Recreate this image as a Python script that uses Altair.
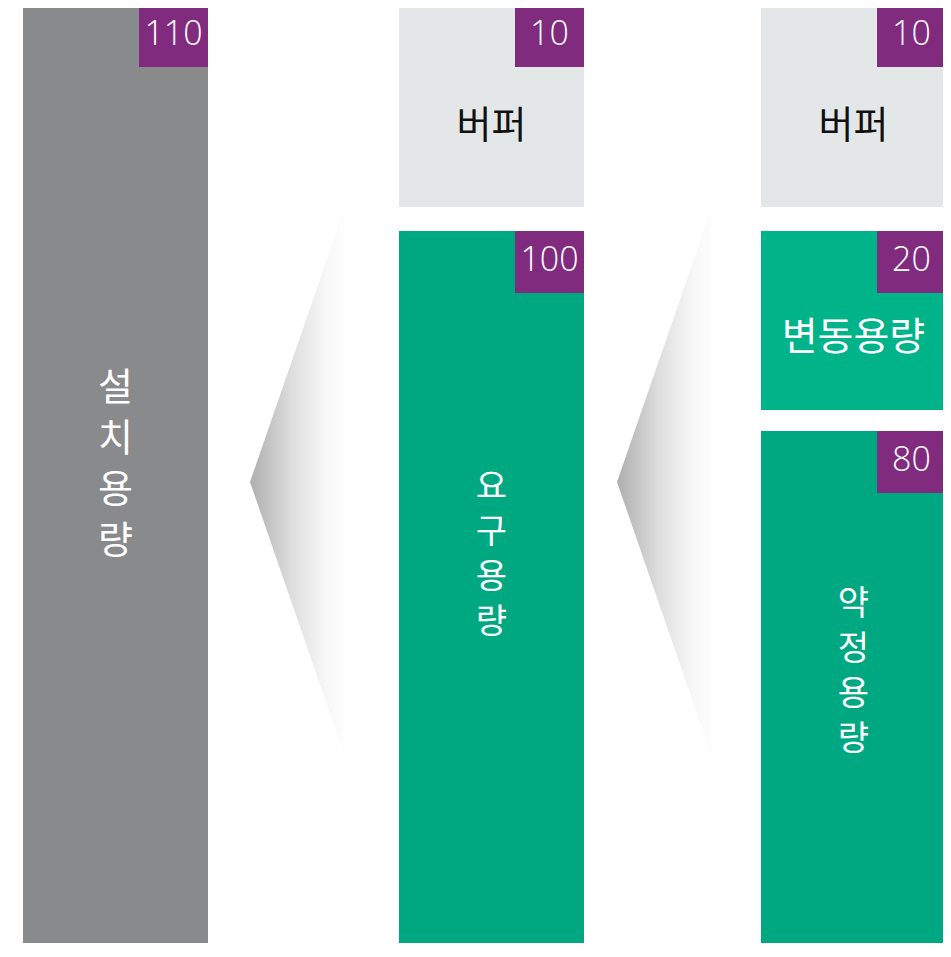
import altair as alt
import pandas as pd

# ---- content ----
block_labels = ["설치용량", "버퍼", "요구용량", "버퍼", "변동용량", "약정용량"]
block_values = [110, 10, 100, 10, 20, 80]
block_column = [0, 1, 1, 2, 2, 2]

# ---- layout (reference pixel units) ----
column_left = [23, 399, 761]
column_width = 185
block_top = [5, 5, 231, 5, 231, 431]
block_bottom = [990, 207, 990, 207, 410, 990]
block_fill = ["#898A8C", "#E4E7E8", "#00A882", "#E4E7E8", "#00B388", "#00A882"]
label_color = ["#FFFFFF", "#111111", "#FFFFFF", "#111111", "#FFFFFF", "#FFFFFF"]
label_vertical = [True, False, True, False, False, True]
label_center_y = [465, 127, 555, 127, 338, 672]
label_font_size = [38, 38, 34, 38, 39, 34]
label_char_step = [51, 0, 45, 0, 0, 45]
badge_w = 69
badge_h = 62
badge_fill = "#812B7E"

chevron_id = ["a", "b"]
chevron_tip_x = [250, 617]
chevron_right_x = [344, 711]
chevron_tip_y = 482
chevron_top_y = 210
chevron_bottom_y = 754

# ---- tables ----
blocks = pd.DataFrame({
    "label": block_labels,
    "value": [str(v) for v in block_values],
    "col": block_column,
    "top": block_top,
    "bottom": block_bottom,
    "fill": block_fill,
})
blocks["left"] = [column_left[c] for c in blocks["col"]]
blocks["right"] = blocks["left"] + column_width
blocks["cx"] = blocks["left"] + column_width / 2
blocks["badge_left"] = blocks["right"] - badge_w
blocks["badge_bottom"] = blocks["top"] + badge_h
blocks["badge_cx"] = blocks["right"] - badge_w / 2
blocks["badge_text_y"] = blocks["top"] + 39.5

rows = []
for i, lab in enumerate(block_labels):
    cx = column_left[block_column[i]] + column_width / 2
    if label_vertical[i]:
        n = len(lab)
        for k, ch in enumerate(lab):
            rows.append({"t": ch, "x": cx,
                         "y": label_center_y[i] + (k - (n - 1) / 2) * label_char_step[i],
                         "c": label_color[i], "s": label_font_size[i]})
    else:
        rows.append({"t": lab, "x": cx, "y": label_center_y[i],
                     "c": label_color[i], "s": label_font_size[i]})
labels = pd.DataFrame(rows)

chev_rows = []
for j, cid in enumerate(chevron_id):
    chev_rows.append({"id": cid, "x": chevron_tip_x[j], "y": chevron_tip_y, "y2": chevron_tip_y})
    chev_rows.append({"id": cid, "x": chevron_right_x[j], "y": chevron_top_y, "y2": chevron_bottom_y})
chev = pd.DataFrame(chev_rows)

W, H = 935, 935
xs = alt.Scale(domain=[8, 8 + W], nice=False, zero=False)
ys = alt.Scale(domain=[8, 8 + H], nice=False, zero=False, reverse=True)

base = alt.Chart(blocks)

rects = base.mark_rect(clip=True).encode(
    x=alt.X("left:Q", scale=xs, axis=None),
    x2="right:Q",
    y=alt.Y("top:Q", scale=ys, axis=None),
    y2="bottom:Q",
    color=alt.Color("fill:N", scale=None),
)

badges = base.mark_rect(color=badge_fill, clip=True).encode(
    x=alt.X("badge_left:Q", scale=xs, axis=None),
    x2="right:Q",
    y=alt.Y("top:Q", scale=ys, axis=None),
    y2="badge_bottom:Q",
)

badge_text = base.mark_text(
    font="Open Sans", fontWeight=300, fontSize=34, color="white",
    align="center", baseline="alphabetic",
).encode(
    x=alt.X("badge_cx:Q", scale=xs, axis=None),
    y=alt.Y("badge_text_y:Q", scale=ys, axis=None),
    text="value:N",
)

label_text = alt.Chart(labels).mark_text(
    font="Noto Sans CJK KR", align="center", baseline="middle",
).encode(
    x=alt.X("x:Q", scale=xs, axis=None),
    y=alt.Y("y:Q", scale=ys, axis=None),
    text="t:N",
    color=alt.Color("c:N", scale=None),
    size=alt.Size("s:Q", scale=None),
)

chevrons = alt.Chart(chev).mark_area(
    interpolate="linear",
    color=alt.Gradient(
        gradient="linear",
        stops=[alt.GradientStop(color="#AEAEAE", offset=0),
               alt.GradientStop(color="#DEDEDE", offset=0.45),
               alt.GradientStop(color="#F7F7F7", offset=0.8),
               alt.GradientStop(color="#FDFDFD", offset=1)],
        x1=0, x2=1, y1=0, y2=0,
    ),
).encode(
    x=alt.X("x:Q", scale=xs, axis=None),
    y=alt.Y("y:Q", scale=ys, axis=None),
    y2="y2:Q",
    detail="id:N",
)

chart = alt.layer(chevrons, rects, badges, badge_text, label_text).properties(
    width=W, height=H, padding=0, background="white",
).configure_view(stroke=None)

chart.save("out.html", embed_options={"renderer": "svg", "actions": False})
